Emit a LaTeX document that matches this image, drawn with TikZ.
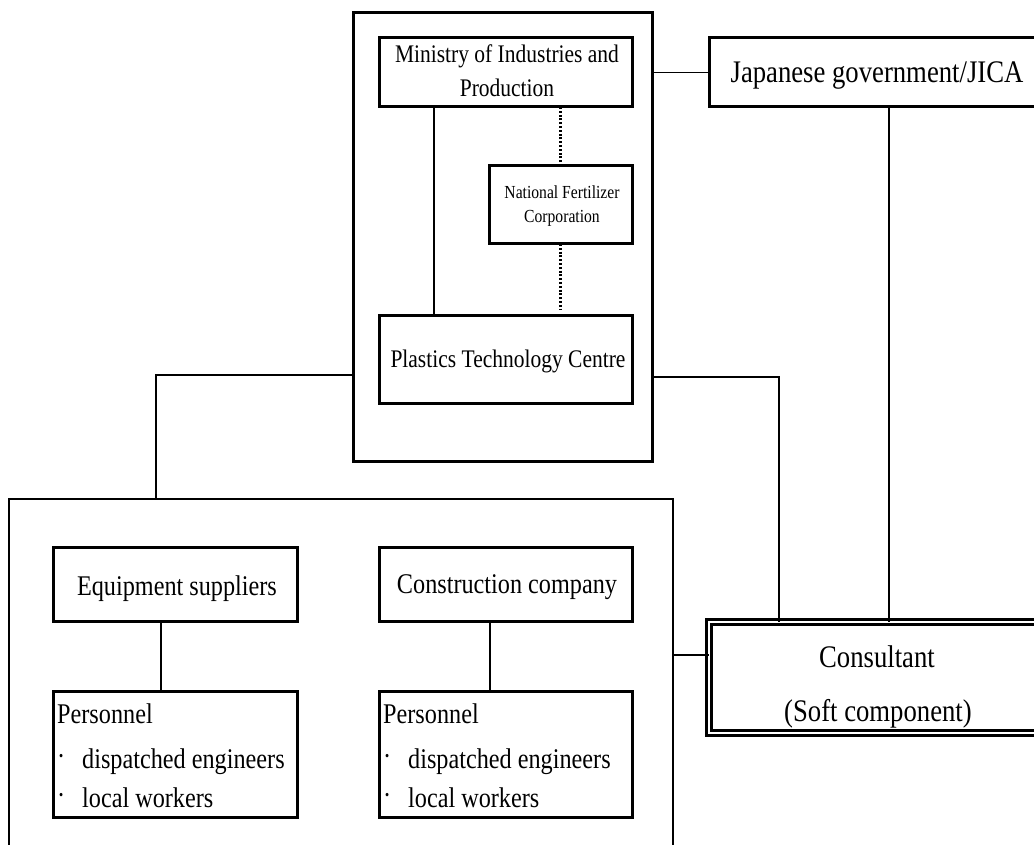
\documentclass[tikz,border=0pt]{standalone}
\usepackage{fontspec}
\setmainfont[FakeStretch=0.85]{Liberation Serif}
\usetikzlibrary{fit}
\newcommand{\mybul}{\makebox[25pt][l]{\raisebox{3pt}{·}}}
\begin{document}
\begin{tikzpicture}[x=1pt,y=-1pt,
  box/.style={draw, line width=3pt, inner sep=0pt, outer sep=0pt},
  thinfrm/.style={draw, line width=1.8pt, inner sep=0pt, outer sep=0pt},
  dbl/.style={draw, line width=2.6pt, double=white, double distance=2.4pt, inner sep=0pt, outer sep=0pt},
  conn/.style={line width=1.5pt},
  dotline/.style={line width=2.4pt, dash pattern=on 2pt off 1.8pt},
  txt/.style={inner sep=0pt, anchor=base},
  txtl/.style={inner sep=0pt, anchor=base west},
  fbig/.style={font=\fontsize{31.4}{36}\selectfont},
  fmid/.style={font=\fontsize{28.5}{33}\selectfont},
  fsm/.style={font=\fontsize{25.3}{30}\selectfont},
  ftiny/.style={font=\fontsize{18.4}{22}\selectfont}
]
\useasboundingbox (0,0) rectangle (1034,845);
\clip (0,0) rectangle (1034,845);
\fill[white] (0,0) rectangle (1034,845);

% frames
\node[box, fit={(353,13) (652,461)}] (frame) {};
\node[thinfrm, fit={(9,499) (673,880)}] (contr) {};

% boxes
\node[box, fit={(379,38) (632,107)}] (min) {};
\node[box, fit={(489,166) (632,244)}] (nfc) {};
\node[box, fit={(379,315) (632,403)}] (ptc) {};
\node[box, fit={(709,38) (1046,107)}] (jica) {};
\node[box, fit={(53,547) (297,621)}] (eq) {};
\node[box, fit={(379,547) (632,621)}] (con) {};
\node[box, fit={(53,691) (297,817)}] (per1) {};
\node[box, fit={(379,691) (632,817)}] (per2) {};
\node[dbl, fit={(709,622) (1050,733)}] (cons) {};

% texts
\node[txt, fsm] (minA) at (507,63) {Ministry of Industries and};
\node[txt, fsm] (minB) at (507,97) {Production};
\node[txt, ftiny] (nfcA) at (562,199) {National Fertilizer};
\node[txt, ftiny] (nfcB) at (562,223) {Corporation};
\node[txt, fsm] (ptcA) at (508,367) {Plastics Technology Centre};
\node[txt, fbig] (jicaA) at (877,83) {Japanese government/JICA};
\node[txt, fmid] (eqA) at (177,595) {Equipment suppliers};
\node[txt, fmid] (conA) at (507,593) {Construction company};
\node[txt, fbig] (consA) at (877,667) {Consultant};
\node[txt, fbig] (consB) at (878,721) {(Soft component)};

\node[txtl, fmid] (p1a) at (57,723) {Personnel};
\node[txtl, fmid] (p1b) at (57,768) {\mybul dispatched engineers};
\node[txtl, fmid] (p1c) at (57,807) {\mybul local workers};
\node[txtl, fmid] (p2a) at (383,723) {Personnel};
\node[txtl, fmid] (p2b) at (383,768) {\mybul dispatched engineers};
\node[txtl, fmid] (p2c) at (383,807) {\mybul local workers};

% connectors
\coordinate (pr) at (779,377);
\coordinate (pl) at (156,375);
\coordinate (jx) at (889,0);
\coordinate (cy) at (0,655);
\coordinate (mx) at (434,0);
\coordinate (ex) at (161,0);
\coordinate (cx) at (490,0);

\draw[conn] (frame.east |- jica.west) -- (jica.west);
\draw[conn] (min.south -| mx) -- (ptc.north -| mx);
\draw[dotline] (nfc.north) -- (nfc.north |- min.south);
\draw[dotline] (nfc.south) -- ([yshift=6pt]nfc.south |- ptc.north);
\draw[conn] (frame.east |- pr) -- (pr) -- (pr |- cons.north);
\draw[conn] (frame.west |- pl) -- (pl) -- (pl |- contr.north);
\draw[conn] (jica.south -| jx) -- (cons.north -| jx);
\draw[conn] (contr.east |- cy) -- (cons.west |- cy);
\draw[conn] (eq.south -| ex) -- (per1.north -| ex);
\draw[conn] (con.south -| cx) -- (per2.north -| cx);
\end{tikzpicture}
\end{document}
